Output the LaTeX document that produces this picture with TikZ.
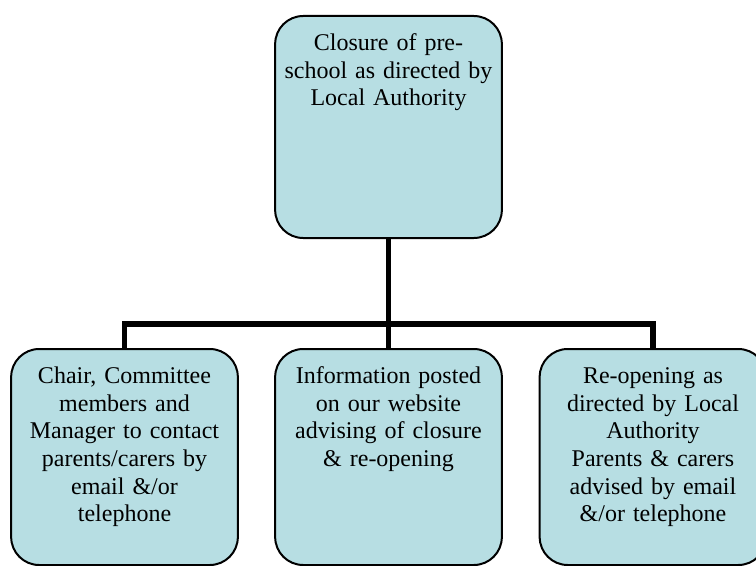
\documentclass[tikz,border=0pt]{standalone}
\usepackage{fontspec}
\setmainfont{Liberation Serif}
\definecolor{stagefill}{HTML}{B7DEE3}

\begin{document}
\begin{tikzpicture}[x=0.75pt, y=0.75pt, stage/.style={draw, rounded corners=21pt, fill=stagefill, line width=1.5pt, text width=162pt, inner xsep=4pt, inner ysep=0pt, align=center, anchor=north, text height=26pt, text depth=136pt, font=\fontsize{18}{20.7}\selectfont}, link/.style={line width=4pt}]
            \useasboundingbox (0,0) rectangle (756,565);
            \clip (0,0) rectangle (756,565);
            % nodes
            \node[stage, text depth=140.5pt] (closure) at (388.5,550) {Closure of pre-\\school as directed by\\Local Authority};
            \node[stage] (chair) at (124.5,217) {Chair, Committee\\members and\\Manager to contact\\parents/carers by\\email \&/or\\telephone};
            \node[stage] (info) at (388.5,217) {Information posted\\on our website\\advising of closure\\\& re-opening};
            \node[stage] (reopen) at (653,217) {Re-opening as\\directed by Local\\Authority\\Parents \& carers\\advised by email\\\&/or telephone};
            % edges
            \coordinate (bus) at (388.5,241);
            \draw[link] (closure.south) -- (info.north);
            \draw[link] (chair.north) |- (bus) -| (reopen.north);
\end{tikzpicture}
\end{document}
